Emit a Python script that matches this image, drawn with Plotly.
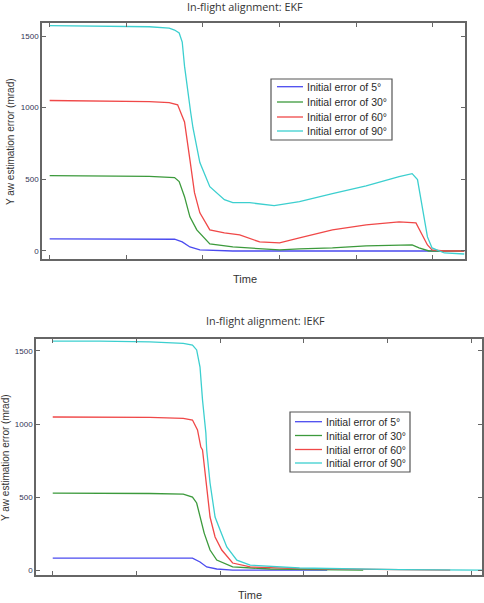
import plotly.graph_objects as go

# ---- data (time in arbitrary units, error in mrad) ----
labels = ["Initial error of 5°", "Initial error of 30°", "Initial error of 60°", "Initial error of 90°"]
colors = ["#4b4bef", "#3c9a3c", "#f04848", "#3ccfcf"]

# EKF
ekf_t5 = [0, 1.30, 1.63, 1.73, 1.83, 1.96, 2.39, 5.41]
ekf_v5 = [84, 84, 82, 63, 28, 7, 0, 0]
ekf_t30 = [0, 0.65, 1.30, 1.63, 1.69, 1.76, 1.83, 1.92, 2.09, 2.39, 2.74, 3.00, 3.26, 3.69, 4.13, 4.56, 4.73, 4.82, 4.95, 5.41]
ekf_v30 = [526, 525, 520, 512, 484, 379, 238, 147, 49, 28, 14, 7, 14, 21, 35, 42, 42, 21, 0, 0]
ekf_t60 = [0, 0.65, 1.30, 1.56, 1.67, 1.73, 1.76, 1.83, 1.89, 1.96, 2.09, 2.28, 2.48, 2.74, 3.00, 3.26, 3.69, 4.13, 4.56, 4.78, 4.85, 4.93, 4.99, 5.15, 5.41]
ekf_v60 = [1050, 1048, 1042, 1035, 1020, 940, 900, 638, 407, 266, 147, 126, 112, 63, 56, 91, 147, 182, 203, 196, 126, 42, 7, 0, 0]
ekf_t90 = [0, 0.65, 1.30, 1.56, 1.63, 1.69, 1.73, 1.76, 1.80, 1.84, 1.87, 1.96, 2.09, 2.28, 2.39, 2.61, 2.93, 3.26, 3.69, 4.13, 4.56, 4.73, 4.80, 4.86, 4.93, 4.99, 5.15, 5.41]
ekf_v90 = [1572, 1571, 1565, 1555, 1542, 1521, 1458, 1290, 1108, 968, 860, 617, 449, 358, 337, 337, 316, 344, 400, 455, 519, 540, 498, 309, 98, 21, -14, -21]

# IEKF
iekf_t5 = [0, 1.16, 1.67, 1.76, 1.84, 1.96, 2.15, 3.28]
iekf_v5 = [82, 82, 82, 55, 21, 7, 0, 0]
iekf_t30 = [0, 0.56, 1.16, 1.56, 1.67, 1.72, 1.76, 1.81, 1.88, 1.96, 2.15, 2.60, 3.71]
iekf_v30 = [527, 527, 524, 520, 500, 459, 363, 253, 137, 68, 21, 7, 0]
iekf_t60 = [0, 0.56, 1.16, 1.56, 1.67, 1.73, 1.77, 1.79, 1.83, 1.88, 1.94, 2.02, 2.15, 2.36, 2.95, 4.15, 4.75]
iekf_v60 = [1048, 1048, 1045, 1038, 1027, 959, 842, 822, 596, 363, 226, 137, 48, 21, 10, 5, 0]
iekf_t90 = [0, 0.56, 1.16, 1.56, 1.67, 1.72, 1.76, 1.79, 1.83, 1.84, 1.88, 1.94, 2.00, 2.08, 2.20, 2.36, 2.95, 3.55, 4.15, 5.13]
iekf_v90 = [1568, 1568, 1562, 1552, 1541, 1507, 1390, 1164, 938, 822, 596, 363, 274, 158, 68, 34, 14, 7, 3, 0]

y_ticks = [0, 500, 1000, 1500]
x_ticks = [0, 1, 2, 3, 4, 5]

fig = go.Figure()

ekf = [(ekf_t5, ekf_v5), (ekf_t30, ekf_v30), (ekf_t60, ekf_v60), (ekf_t90, ekf_v90)]
iekf = [(iekf_t5, iekf_v5), (iekf_t30, iekf_v30), (iekf_t60, iekf_v60), (iekf_t90, iekf_v90)]

for i, (t, v) in enumerate(ekf):
    fig.add_trace(go.Scatter(x=t, y=v, mode="lines", name=labels[i], showlegend=False,
                             line=dict(color=colors[i], width=1.3),
                             xaxis="x", yaxis="y"))
for i, (t, v) in enumerate(iekf):
    fig.add_trace(go.Scatter(x=t, y=v, mode="lines", name=labels[i], showlegend=False,
                             line=dict(color=colors[i], width=1.3),
                             xaxis="x2", yaxis="y2"))

W, H = 484, 603
axcol = "#666666"
common_x = dict(showline=True, mirror="ticks", linecolor=axcol, linewidth=1.5,
                ticks="inside", ticklen=4, tickcolor=axcol, tickvals=x_ticks,
                showticklabels=False, showgrid=False, zeroline=False)
common_y = dict(showline=True, mirror="ticks", linecolor=axcol, linewidth=1.5,
                ticks="inside", ticklen=4, tickcolor=axcol, tickvals=y_ticks,
                tickfont=dict(family="Liberation Sans", size=8, color="#333355"),
                showgrid=False, zeroline=False)

fig.update_layout(
    width=W, height=H, margin=dict(l=0, r=0, t=0, b=0),
    plot_bgcolor="white", paper_bgcolor="white",
    xaxis=dict(domain=[42 / W, 465 / W], range=[-0.1, 5.42], anchor="y", **common_x),
    yaxis=dict(domain=[1 - 259 / H, 1 - 23 / H], range=[-56, 1591], anchor="x", **common_y),
    xaxis2=dict(domain=[36 / W, 482 / W], range=[-0.2, 5.13], anchor="y2", **common_x),
    yaxis2=dict(domain=[1 - 575 / H, 1 - 339 / H], range=[-34, 1582], anchor="x2", **common_y),
    showlegend=False,
)

# ---- hand-built legends (box, line samples, labels), in paper coordinates ----
def px_x(v):
    return v / W

def px_y(v):
    return 1 - v / H

legend_boxes = [
    dict(x0=271, x1=392, y0=79, y1=140, rows=[86.7, 102, 117, 131], lx0=277, lx1=303, tx=305),
    dict(x0=290, x1=410, y0=412, y1=472, rows=[421.7, 435.5, 449.5, 463], lx0=295, lx1=322, tx=324),
]
for b in legend_boxes:
    fig.add_shape(type="rect", xref="paper", yref="paper",
                  x0=px_x(b["x0"]), x1=px_x(b["x1"]), y0=px_y(b["y1"]), y1=px_y(b["y0"]),
                  line=dict(color="#555555", width=1.2), fillcolor="white", layer="above")
    for i, ry in enumerate(b["rows"]):
        fig.add_shape(type="line", xref="paper", yref="paper",
                      x0=px_x(b["lx0"]), x1=px_x(b["lx1"]), y0=px_y(ry), y1=px_y(ry),
                      line=dict(color=colors[i], width=1.3), layer="above")
        fig.add_annotation(text=labels[i], x=px_x(b["tx"]), y=px_y(ry), xref="paper", yref="paper",
                           showarrow=False, xanchor="left", yanchor="middle",
                           font=dict(family="Liberation Sans", size=10.5, color="#2a2a2a"))

ann_font_title = dict(family="Open Sans", size=10.8, color="#333333")
ann_font_lbl = dict(family="Liberation Sans", size=11, color="#333333")
ann_font_ylbl = dict(family="Liberation Sans", size=10, color="#333333")
fig.add_annotation(text="In-flight alignment: EKF", x=245 / W, y=1 - 7 / H, xref="paper", yref="paper",
                   showarrow=False, font=ann_font_title, xanchor="center", yanchor="middle")
fig.add_annotation(text="In-flight alignment: IEKF", x=265 / W, y=1 - 320 / H, xref="paper", yref="paper",
                   showarrow=False, font=ann_font_title, xanchor="center", yanchor="middle")
fig.add_annotation(text="Time", x=245 / W, y=1 - 279 / H, xref="paper", yref="paper",
                   showarrow=False, font=ann_font_lbl, xanchor="center", yanchor="middle")
fig.add_annotation(text="Time", x=250 / W, y=1 - 595 / H, xref="paper", yref="paper",
                   showarrow=False, font=ann_font_lbl, xanchor="center", yanchor="middle")
fig.add_annotation(text="Y aw estimation error (mrad)", x=10 / W, y=1 - 142 / H, xref="paper", yref="paper",
                   showarrow=False, font=ann_font_ylbl, textangle=-90, xanchor="center", yanchor="middle")
fig.add_annotation(text="Y aw estimation error (mrad)", x=5 / W, y=1 - 458 / H, xref="paper", yref="paper",
                   showarrow=False, font=ann_font_ylbl, textangle=-90, xanchor="center", yanchor="middle")

fig.write_html("out.html")
